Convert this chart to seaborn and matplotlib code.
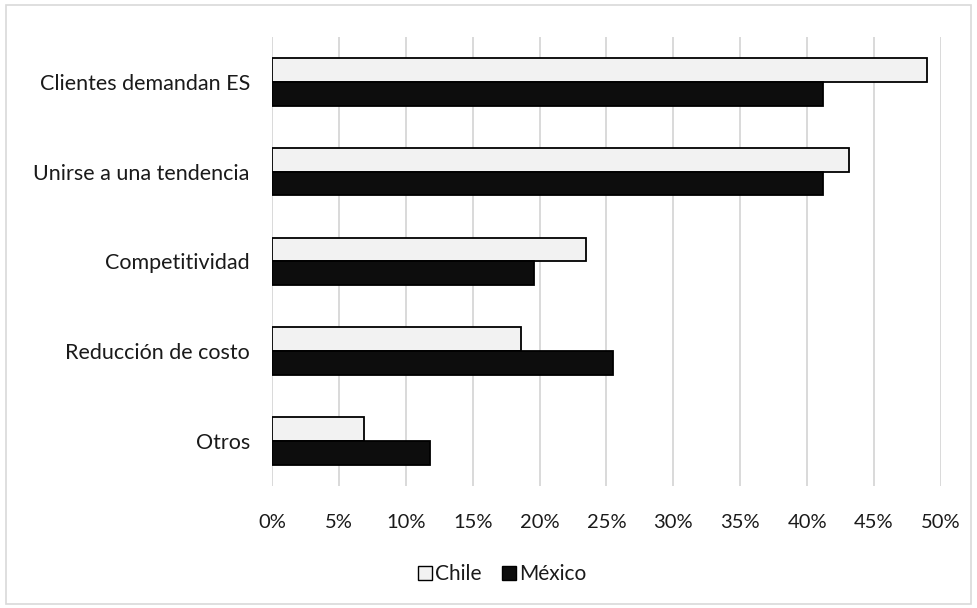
import matplotlib
matplotlib.use("Agg")
import matplotlib.pyplot as plt
import matplotlib.patches as mpatches
from matplotlib.ticker import FuncFormatter, MultipleLocator
import seaborn as sns
import pandas as pd

categories = ["Clientes demandan ES", "Unirse a una tendencia", "Competitividad",
              "Reducción de costo", "Otros"]
chile = [49.0, 43.1, 23.5, 18.6, 6.9]
mexico = [41.2, 41.2, 19.6, 25.5, 11.8]
series = ["Chile", "México"]

df = pd.DataFrame({
    "motivo": categories * 2,
    "pais": [series[0]] * len(categories) + [series[1]] * len(categories),
    "valor": chile + mexico,
})

sns.set_theme(style="white")
plt.rcParams["font.family"] = ["Lato", "DejaVu Sans"]

fig = plt.figure(figsize=(9.77, 6.08), dpi=100)
ax = fig.add_axes([0.2784, 0.2007, 0.6846, 0.7385])

palette = {"Chile": "#f2f2f2", "México": "#0d0d0d"}
sns.barplot(data=df, y="motivo", x="valor", hue="pais", order=categories,
            hue_order=series, palette=palette, orient="h", width=0.53,
            edgecolor="black", linewidth=1.3, ax=ax, legend=False, zorder=3)

ax.set_xlim(0, 50)
ax.set_ylim(4.5, -0.5)
ax.xaxis.set_major_locator(MultipleLocator(5))
ax.xaxis.set_major_formatter(FuncFormatter(lambda v, _: f"{v:.0f}%"))
ax.grid(axis="x", color="#d9d9d9", linewidth=1.4, zorder=0)
ax.grid(axis="y", visible=False)
ax.set_axisbelow(True)
for s in ax.spines.values():
    s.set_visible(False)
ax.set_xlabel("")
ax.set_ylabel("")
ax.tick_params(axis="both", length=0, colors="#1a1a1a")
ax.tick_params(axis="x", pad=20, labelsize=14.5)
ax.tick_params(axis="y", pad=16, labelsize=15.5)

handles = [mpatches.Patch(facecolor=palette[s], edgecolor="black", linewidth=1.0, label=s)
           for s in series]
fig.legend(handles=handles, loc="center", bbox_to_anchor=(0.514, 0.056), ncol=2,
           frameon=False, fontsize=15, handlelength=0.65, handleheight=0.65,
           handletextpad=0.15, columnspacing=1.0, labelcolor="#1a1a1a")

fig.patches.append(mpatches.Rectangle((0.006, 0.006), 0.988, 0.986,
                                      transform=fig.transFigure, fill=False,
                                      edgecolor="#d9d9d9", linewidth=1.2))

fig.savefig("out.png", dpi=100)
